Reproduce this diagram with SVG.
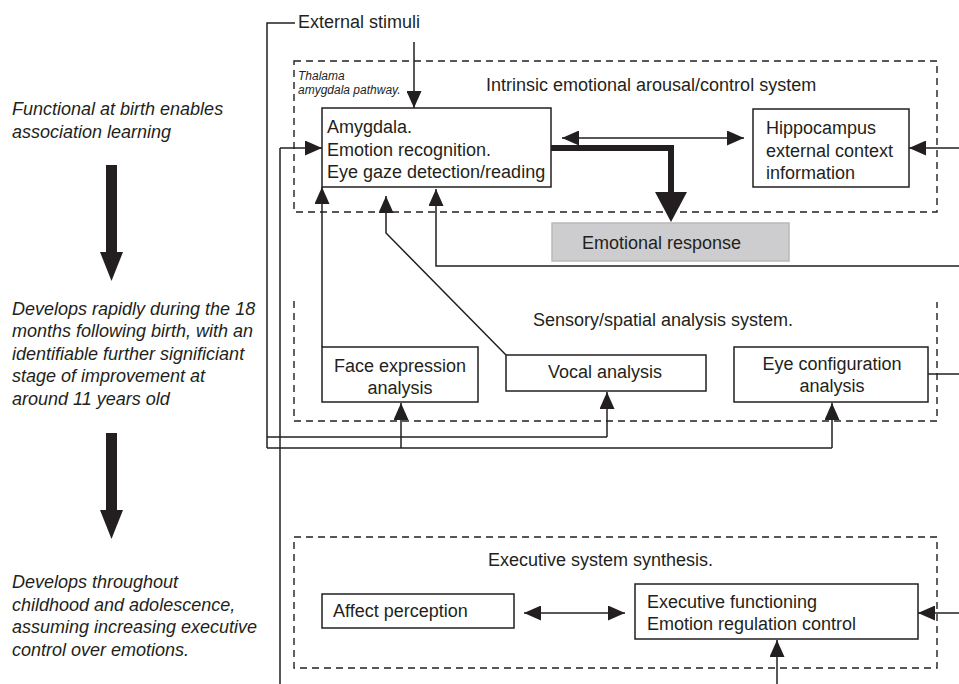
<svg xmlns="http://www.w3.org/2000/svg" width="959" height="684" viewBox="0 0 959 684">
<defs>
<style>
text{font-family:"Liberation Sans",Arial,sans-serif;font-size:18px;fill:#231f20}
.it{font-style:italic}
.sm{font-size:12px;font-style:italic}
.box{fill:#fff;stroke:#231f20;stroke-width:1.5}
.grey{fill:#cdcdcf;stroke:#b9b9bb;stroke-width:1.5}
.dash{fill:none;stroke:#231f20;stroke-width:1.4;stroke-dasharray:7 5}
.ln{fill:none;stroke:#231f20;stroke-width:1.5}
.ar{marker-end:url(#ah)}
.dbl{marker-end:url(#ah);marker-start:url(#ah)}
.big{fill:#231f20}
</style>
<marker id="ah" markerUnits="userSpaceOnUse" markerWidth="17" markerHeight="15" refX="17" refY="7.5" orient="auto-start-reverse">
<path d="M0,0 L17,7.5 L0,15 Z" fill="#231f20"/>
</marker>
</defs>
<rect width="959" height="684" fill="#fff"/>

<g id="left-notes">
<text class="it" x="12" y="115">Functional at birth enables</text>
<text class="it" x="12" y="138">association learning</text>
<rect class="big" x="106" y="165" width="11" height="88"/>
<polygon class="big" points="100,252 123,252 111.5,281"/>
<text class="it" x="12" y="315">Develops rapidly during the 18</text>
<text class="it" x="12" y="337">months following birth, with an</text>
<text class="it" x="12" y="360">identifiable further significiant</text>
<text class="it" x="12" y="382">stage of improvement at</text>
<text class="it" x="12" y="405">around 11 years old</text>
<rect class="big" x="106" y="433" width="11" height="78"/>
<polygon class="big" points="100,510 123,510 111.5,539"/>
<text class="it" x="12" y="588">Develops throughout</text>
<text class="it" x="12" y="611">childhood and adolescence,</text>
<text class="it" x="12" y="633">assuming increasing executive</text>
<text class="it" x="12" y="656">control over emotions.</text>
</g>

<g id="intrinsic-system">
<rect class="dash" x="294" y="61" width="643" height="151"/>
<text x="486" y="91">Intrinsic emotional arousal/control system</text>
<text class="sm" x="298" y="80">Thalama</text>
<text class="sm" x="298" y="94">amygdala pathway.</text>
</g>

<g id="sensory-system">
<path class="dash" d="M294,301 V421 H937 V302"/>
<text x="533" y="326">Sensory/spatial analysis system.</text>
</g>

<g id="executive-system">
<rect class="dash" x="294" y="537" width="643" height="131"/>
<text x="488" y="566">Executive system synthesis.</text>
</g>

<g id="external-stimuli">
<text x="298" y="28">External stimuli</text>
</g>

<g id="amygdala">
<rect class="box" x="322" y="108" width="229" height="79"/>
<text x="327" y="133">Amygdala.</text>
<text x="327" y="156">Emotion recognition.</text>
<text x="327" y="178">Eye gaze detection/reading</text>
</g>

<g id="hippocampus">
<rect class="box" x="753" y="109" width="156" height="78"/>
<text x="766" y="134">Hippocampus</text>
<text x="766" y="157">external context</text>
<text x="766" y="179">information</text>
</g>

<g id="emotional-response">
<rect class="grey" x="552" y="223" width="237" height="38"/>
<text x="582" y="249">Emotional response</text>
</g>

<g id="face-expression">
<rect class="box" x="322" y="347" width="156" height="55"/>
<text x="400" y="372" text-anchor="middle">Face expression</text>
<text x="400" y="394" text-anchor="middle">analysis</text>
</g>

<g id="vocal-analysis">
<rect class="box" x="506" y="355" width="200" height="36"/>
<text x="605" y="378" text-anchor="middle">Vocal analysis</text>
</g>

<g id="eye-configuration">
<rect class="box" x="734" y="347" width="194" height="55"/>
<text x="832" y="370" text-anchor="middle">Eye configuration</text>
<text x="832" y="392" text-anchor="middle">analysis</text>
</g>

<g id="affect-perception">
<rect class="box" x="322" y="594" width="192" height="34"/>
<text x="333" y="617">Affect perception</text>
</g>

<g id="executive-functioning">
<rect class="box" x="635" y="584" width="283" height="55"/>
<text x="647" y="608">Executive functioning</text>
<text x="647" y="630">Emotion regulation control</text>
</g>

<g id="connectors">
<path class="ln" d="M295,23 H267 V448"/>
<path class="ln ar" d="M414,42 V108"/>
<path class="ln" d="M280,684 V148"/>
<path class="ln ar" d="M280,148 H322"/>
<path class="ln dbl" d="M562,138 H744"/>
<path d="M551,148 H671 V194" fill="none" stroke="#231f20" stroke-width="6"/>
<polygon class="big" points="655,192 687,192 671,222"/>
<path class="ln ar" d="M959,148 H909"/>
<path class="ln ar" d="M959,266 H436 V189"/>
<path class="ln ar" d="M322,347 V187"/>
<path class="ln ar" d="M506,355 L386,233 V196"/>
<path class="ln" d="M928,374 H959"/>
<path class="ln" d="M267,437 H607"/>
<path class="ln ar" d="M607,437 V392"/>
<path class="ln" d="M267,448 H832"/>
<path class="ln ar" d="M401,448 V403"/>
<path class="ln ar" d="M832,448 V403"/>
<path class="ln dbl" d="M524,613 H625"/>
<path class="ln ar" d="M959,613 H918"/>
<path class="ln ar" d="M777,684 V640"/>
</g>
</svg>
